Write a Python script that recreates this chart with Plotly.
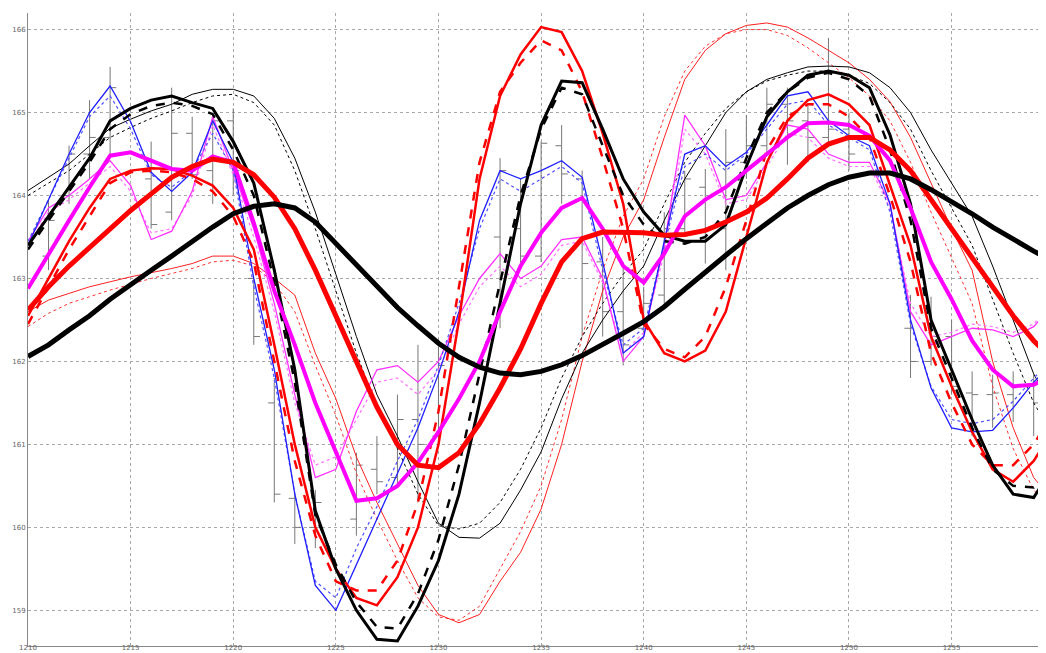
import plotly.graph_objects as go

x = list(range(1210, 1261))

thick_black = [162.06,162.2,162.38,162.55,162.75,162.93,163.1,163.27,163.45,163.62,163.78,163.87,163.9,163.85,163.68,163.42,163.15,162.9,162.65,162.43,162.22,162.05,161.93,161.86,161.84,161.88,161.96,162.07,162.2,162.34,162.48,162.66,162.87,163.08,163.28,163.48,163.67,163.85,164.0,164.13,164.22,164.27,164.27,164.2,164.07,163.93,163.78,163.62,163.47,163.33,163.2]
thick_red = [162.62,162.9,163.15,163.38,163.6,163.82,164.02,164.22,164.35,164.44,164.4,164.25,163.98,163.6,163.1,162.55,162.0,161.45,161.0,160.75,160.72,160.9,161.25,161.68,162.15,162.7,163.2,163.48,163.56,163.56,163.55,163.52,163.53,163.58,163.68,163.8,163.97,164.2,164.45,164.62,164.7,164.7,164.55,164.3,163.95,163.6,163.25,162.9,162.55,162.25,162.0]
thick_magenta = [162.88,163.3,163.7,164.1,164.48,164.52,164.42,164.32,164.3,164.47,164.4,163.67,162.85,162.2,161.5,160.9,160.32,160.35,160.5,160.78,161.15,161.55,162.0,162.6,163.15,163.55,163.85,163.97,163.6,163.15,162.95,163.3,163.75,163.95,164.1,164.3,164.5,164.7,164.87,164.88,164.85,164.72,164.42,163.85,163.2,162.75,162.25,161.9,161.7,161.72,161.85]
black_solid = [163.4,163.75,164.1,164.45,164.9,165.05,165.15,165.2,165.12,165.05,164.65,164.15,163.1,161.9,160.2,159.5,159.0,158.65,158.63,159.05,159.6,160.4,161.5,162.7,163.9,164.85,165.38,165.36,164.8,164.2,163.8,163.52,163.45,163.45,163.65,164.35,164.95,165.25,165.45,165.5,165.45,165.3,164.73,163.9,162.5,161.9,161.3,160.75,160.4,160.36,160.75]
black_dash = [163.35,163.7,164.05,164.4,164.8,164.98,165.08,165.12,165.08,164.98,164.55,164.0,162.95,161.75,160.15,159.55,159.1,158.8,158.78,159.2,159.85,160.75,161.85,162.95,164.0,164.8,165.3,165.22,164.6,164.0,163.65,163.45,163.42,163.5,163.8,164.45,165.0,165.25,165.42,165.48,165.4,165.2,164.55,163.7,162.4,161.8,161.2,160.7,160.5,160.48,160.8]
red_solid = [162.55,163.0,163.45,163.85,164.2,164.3,164.33,164.32,164.24,164.12,163.85,163.35,162.2,161.0,160.0,159.5,159.15,159.06,159.4,160.0,161.0,162.5,164.2,165.2,165.7,166.03,165.97,165.5,164.75,163.9,162.5,162.1,162.0,162.13,162.6,163.5,164.4,164.9,165.15,165.22,165.1,164.85,164.12,163.4,162.3,161.7,161.15,160.7,160.55,160.8,161.2]
red_dash = [162.45,162.9,163.35,163.75,164.15,164.28,164.3,164.28,164.2,164.05,163.75,163.2,162.0,160.8,159.9,159.35,159.24,159.24,159.6,160.3,161.4,162.9,164.4,165.25,165.6,165.87,165.75,165.25,164.45,163.6,162.45,162.15,162.05,162.3,162.9,163.7,164.55,164.95,165.1,165.1,164.95,164.7,164.0,163.2,162.1,161.5,161.0,160.75,160.75,161.0,161.4]
blue1 = [163.4,163.95,164.5,165.0,165.32,164.89,164.28,164.05,164.28,164.9,164.4,163.0,161.9,160.4,159.3,159.0,159.55,160.1,160.65,161.2,161.85,162.6,163.7,164.3,164.2,164.3,164.42,164.22,163.2,162.1,162.3,163.45,164.5,164.6,164.35,164.52,164.85,165.2,165.25,164.9,164.72,164.6,163.9,162.5,161.68,161.2,161.15,161.17,161.44,161.75,162.0]
blue2 = [163.45,163.95,164.45,164.95,165.2,164.8,164.25,164.1,164.3,164.75,164.3,162.9,161.8,160.4,159.35,159.15,159.75,160.25,160.8,161.3,161.95,162.7,163.6,164.2,164.05,164.2,164.35,164.15,163.1,162.2,162.4,163.4,164.35,164.5,164.3,164.5,164.8,165.1,165.15,164.85,164.7,164.55,163.8,162.45,161.7,161.3,161.25,161.3,161.52,161.8,162.05]
mag1 = [163.45,163.85,164.0,164.2,164.42,164.12,163.47,163.57,164.05,164.95,164.3,163.6,162.7,161.6,160.6,160.7,161.4,161.9,161.95,161.75,162.0,162.55,163.0,163.3,163.0,163.15,163.47,163.5,163.0,162.0,162.3,163.4,164.97,164.6,163.95,164.0,164.4,164.85,164.8,164.5,164.4,164.4,163.9,162.6,162.2,162.3,162.4,162.38,162.3,162.42,162.7]
mag2 = [163.4,163.8,163.95,164.15,164.35,164.05,163.55,163.6,164.0,164.85,164.25,163.5,162.6,161.5,160.75,160.85,161.3,161.75,161.8,161.6,161.9,162.45,162.9,163.15,162.9,163.05,163.4,163.45,162.95,162.1,162.35,163.3,164.8,164.5,163.9,163.95,164.35,164.75,164.7,164.45,164.35,164.35,163.85,162.7,162.3,162.35,162.45,162.42,162.35,162.45,162.75]
tblack1 = [164.06,164.22,164.38,164.6,164.81,164.92,165.02,165.1,165.22,165.28,165.28,165.2,164.93,164.45,163.8,163.05,162.3,161.6,161.1,160.55,160.05,159.88,159.87,160.05,160.45,160.91,161.55,162.1,162.5,162.85,163.15,163.7,164.2,164.6,165.0,165.25,165.4,165.48,165.55,165.56,165.55,165.48,165.3,165.0,164.55,164.15,163.75,163.15,162.5,161.85,161.4]
tblack2 = [164.0,164.15,164.3,164.5,164.7,164.82,164.93,165.02,165.12,165.2,165.22,165.12,164.85,164.3,163.6,162.85,162.1,161.45,160.95,160.4,160.02,159.98,160.05,160.3,160.7,161.2,161.8,162.3,162.7,163.05,163.35,163.9,164.4,164.75,165.05,165.25,165.38,165.45,165.5,165.5,165.45,165.35,165.12,164.8,164.3,163.85,163.4,162.75,162.1,161.5,161.1]
tred1 = [162.6,162.74,162.82,162.9,162.96,163.02,163.07,163.12,163.18,163.27,163.27,163.18,163.0,162.8,162.1,161.55,160.85,160.3,159.8,159.3,158.95,158.85,158.95,159.35,159.7,160.22,161.0,162.0,162.85,163.5,163.95,164.7,165.4,165.75,165.95,166.05,166.08,166.03,165.9,165.75,165.6,165.4,165.13,164.7,164.15,163.6,163.1,162.0,161.2,160.6,160.3]
tred2 = [162.42,162.58,162.7,162.78,162.86,162.93,163.0,163.06,163.12,163.2,163.22,163.15,162.95,162.6,161.95,161.35,160.65,160.1,159.6,159.15,158.92,158.88,159.05,159.5,159.95,160.5,161.3,162.3,163.1,163.75,164.2,164.95,165.5,165.8,165.95,166.0,166.0,165.93,165.78,165.6,165.42,165.2,164.9,164.4,163.8,163.25,162.7,161.7,160.95,160.45,160.2]

bar_x = [1211,1212,1213,1214,1216,1217,1218,1219,1220,1221,1222,1223,1224,1226,1227,1228,1229,1230,1233,1234,1235,1236,1237,1238,1239,1240,1241,1242,1243,1244,1245,1246,1247,1248,1249,1250,1253,1254,1255,1256,1257,1258,1259]
bar_open = [163.27,164.0,164.5,164.7,164.2,163.8,164.75,164.3,164.9,163.0,161.5,160.35,160.0,160.1,160.7,160.6,161.3,161.1,163.5,163.6,163.27,164.6,164.2,163.2,162.6,162.4,162.8,163.6,164.1,163.6,164.4,164.6,165.1,164.9,164.7,164.8,162.4,162.0,162.3,161.62,161.6,161.6,161.7]
bar_high = [163.95,164.6,165.15,165.55,164.65,165.3,164.95,165.0,165.05,163.0,161.8,160.4,160.45,160.9,161.1,161.6,162.2,162.2,164.45,164.2,164.65,164.85,164.3,163.5,163.2,162.9,163.8,164.3,164.32,164.8,164.97,165.3,165.3,165.1,165.9,165.0,162.8,162.78,162.5,161.88,161.84,161.88,161.84]
bar_low = [163.1,163.9,164.2,164.5,163.6,163.7,164.2,163.9,164.0,162.2,160.3,159.8,159.75,159.9,160.4,160.5,160.3,161.0,162.4,163.1,163.2,163.9,162.3,162.3,161.95,162.35,162.7,163.5,163.18,163.1,164.2,164.5,164.37,164.4,164.6,164.3,161.8,161.95,161.6,161.1,161.2,161.27,161.1]
bar_close = [163.7,164.5,164.7,165.3,163.65,164.75,164.25,164.9,164.3,162.3,160.4,160.0,160.3,160.75,160.55,161.3,161.0,161.95,164.3,163.27,164.63,164.26,163.18,162.6,162.2,162.7,163.6,164.2,163.6,164.4,164.6,165.1,164.9,164.7,164.8,164.5,162.0,162.3,161.7,161.6,161.62,161.7,161.5]

x_ticks = [1210, 1215, 1220, 1225, 1230, 1235, 1240, 1245, 1250, 1255]
y_ticks = [159, 160, 161, 162, 163, 164, 165, 166]

fig = go.Figure()

fig.add_trace(go.Ohlc(x=bar_x, open=bar_open, high=bar_high, low=bar_low, close=bar_close,
                      increasing=dict(line=dict(color="#777777", width=1)),
                      decreasing=dict(line=dict(color="#777777", width=1)),
                      tickwidth=0.3, showlegend=False, hoverinfo="skip"))

def add_line(y, color, width, dash="solid", opacity=1.0):
    fig.add_trace(go.Scatter(x=x, y=y, mode="lines", line=dict(color=color, width=width, dash=dash),
                             opacity=opacity, showlegend=False, hoverinfo="skip"))

add_line(tred2, "#ff3030", 1, "dot")
add_line(tred1, "#ff2020", 1)
add_line(tblack2, "#000000", 1, "dot")
add_line(tblack1, "#000000", 1)
add_line(mag2, "#ff70ff", 1.2, "dot")
add_line(mag1, "#ff30ff", 1.3)
add_line(blue2, "#5050ff", 1.2, "dot")
add_line(blue1, "#2020ff", 1.3)
add_line(red_dash, "#ff0000", 2.5, "dash")
add_line(red_solid, "#ff0000", 2.5)
add_line(black_dash, "#000000", 2.5, "dash")
add_line(black_solid, "#000000", 3)
add_line(thick_magenta, "#ff00ff", 4)
add_line(thick_red, "#ff0000", 5)
add_line(thick_black, "#000000", 5)

axis_style = dict(showgrid=True, gridcolor="#a8a8a8", griddash="dot", gridwidth=1,
                  showline=True, linecolor="#888888", linewidth=1, zeroline=False,
                  automargin=False,
                  tickfont=dict(family="DejaVu Sans", size=7, color="#666666"), ticks="")

# The page body adds an 8px offset; figure size/margins compensate so the plot
# area sits at left 28px, top 13px, bottom 638px of the 1046x653 window.
fig.update_layout(
    width=1038, height=645,
    margin=dict(l=20, r=0, t=5, b=7),
    paper_bgcolor="white", plot_bgcolor="white",
    showlegend=False,
    xaxis=dict(range=[1210, 1259.6], tickvals=x_ticks, rangeslider=dict(visible=False),
               ticklabelstandoff=-5, **axis_style),
    yaxis=dict(range=[158.57, 166.2], tickvals=y_ticks, **axis_style),
)

fig.write_html("out.html")
